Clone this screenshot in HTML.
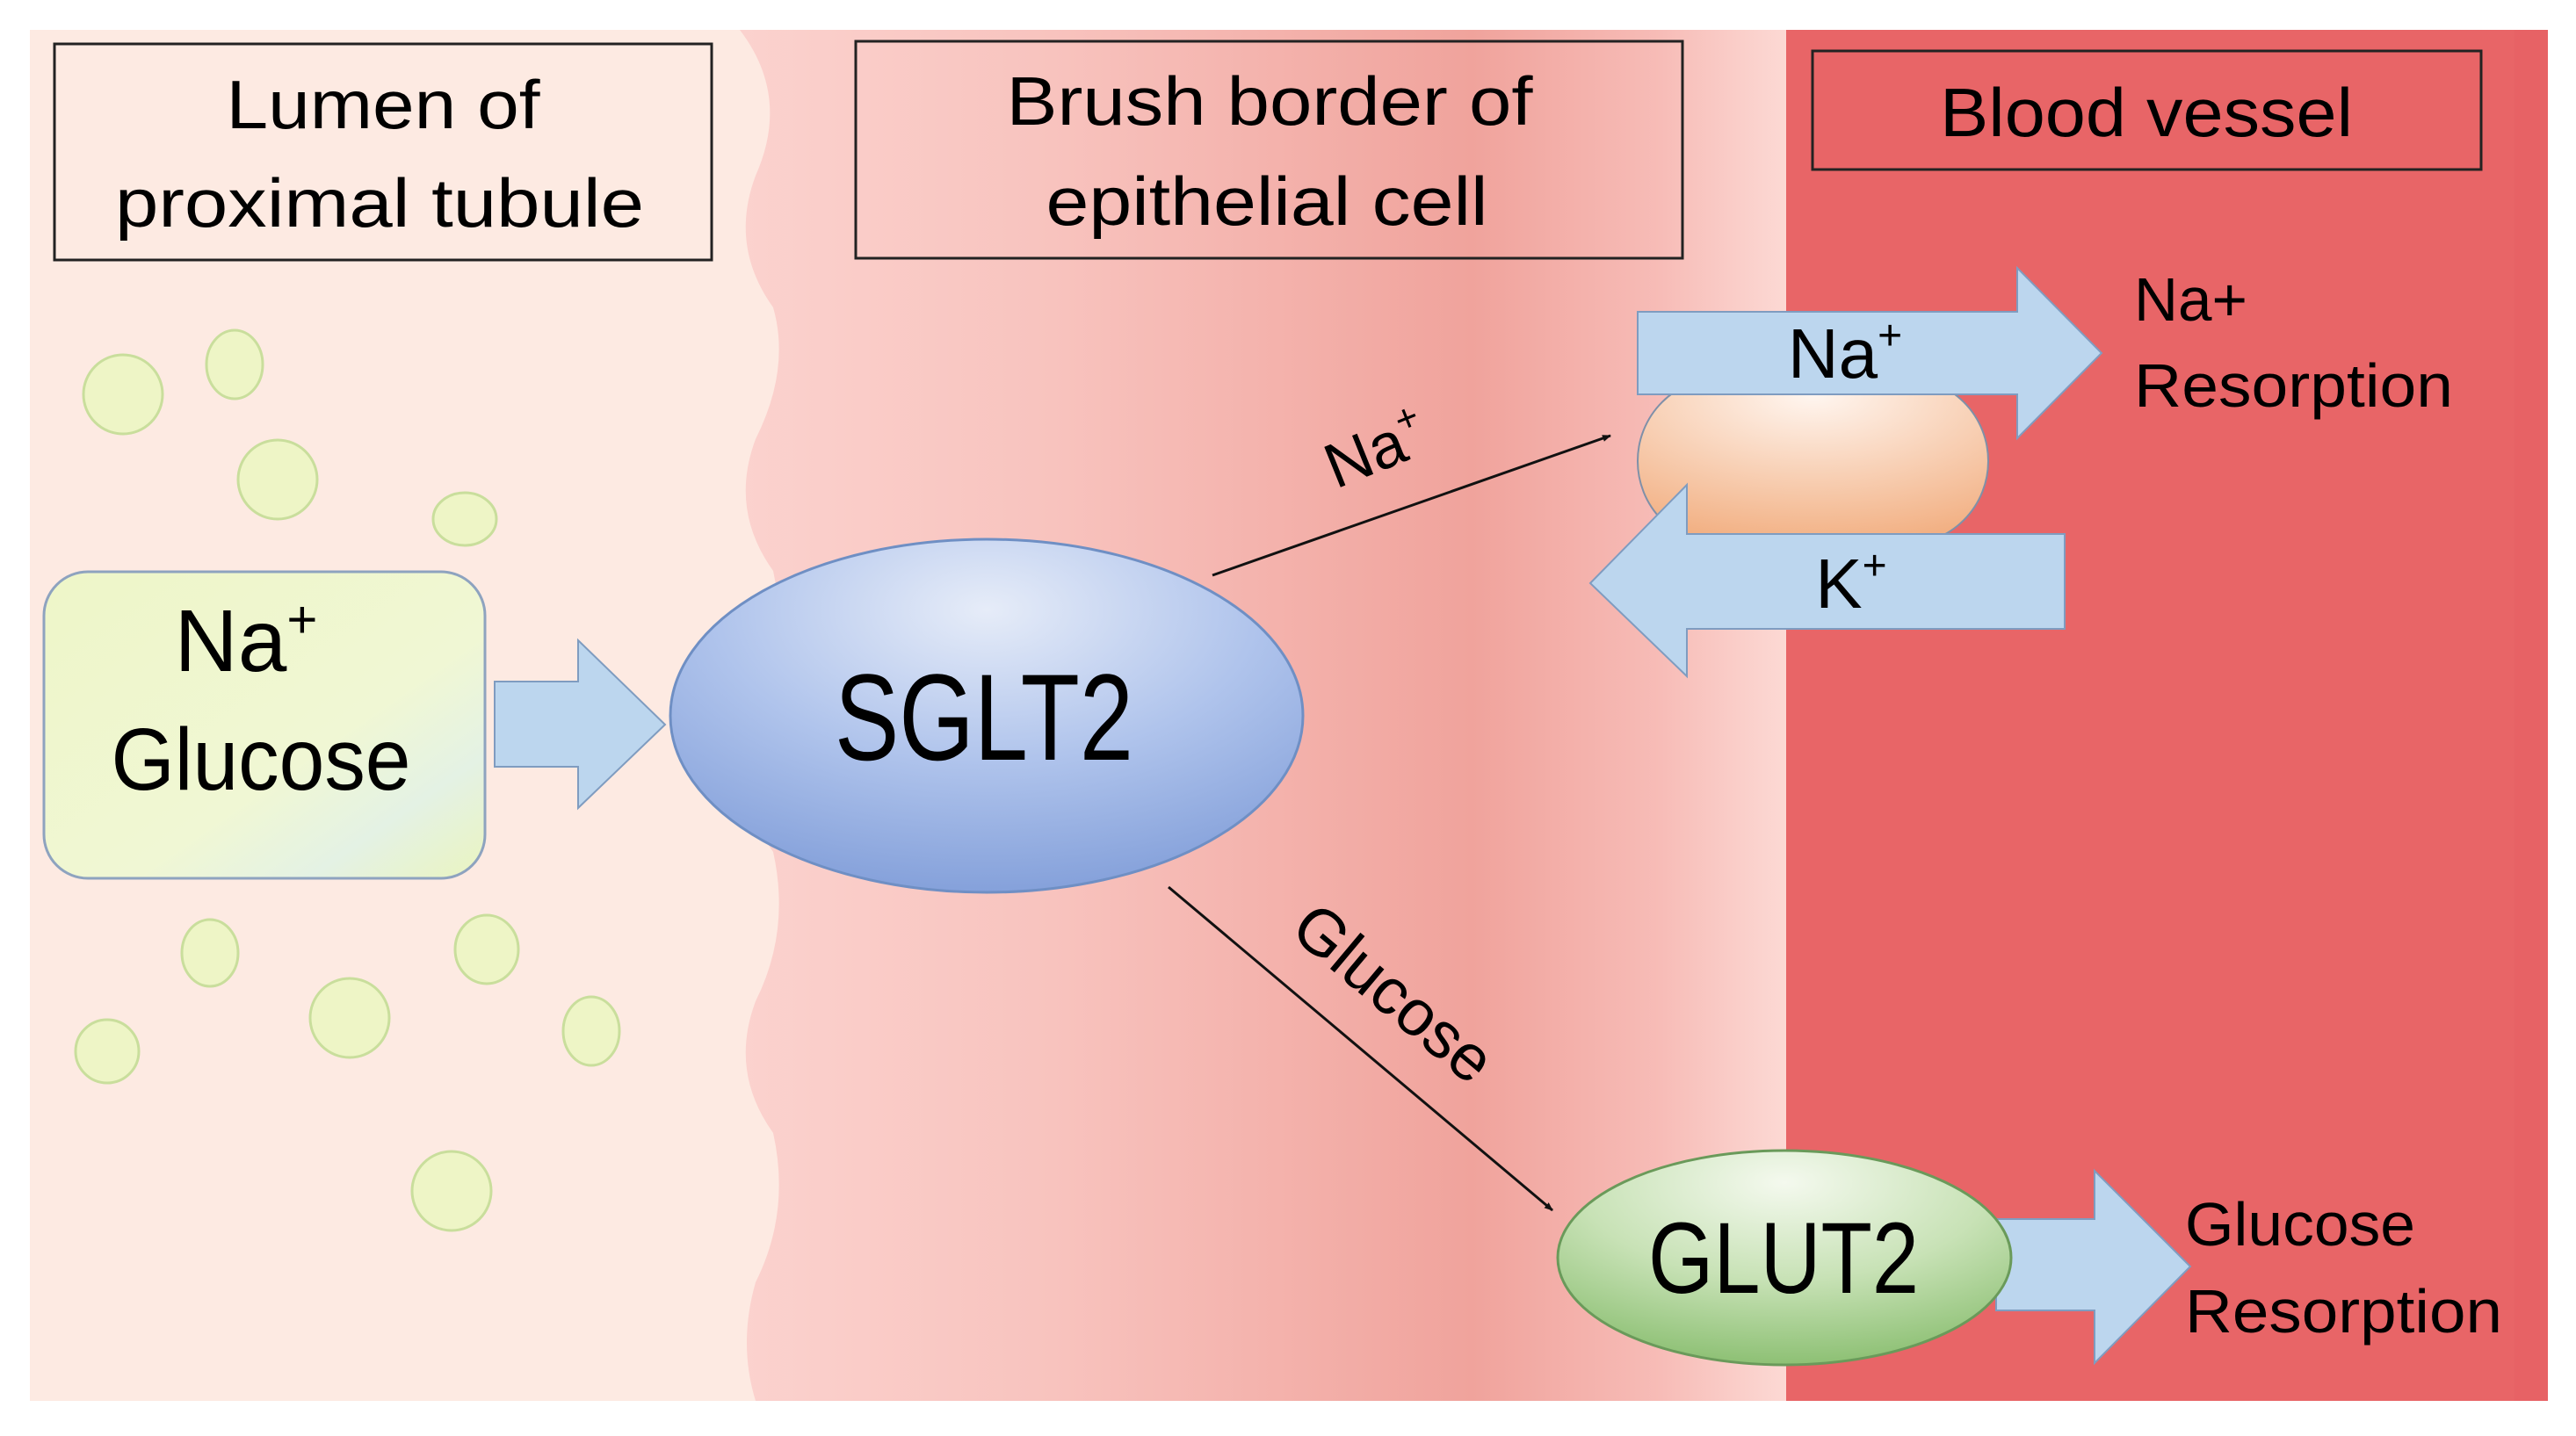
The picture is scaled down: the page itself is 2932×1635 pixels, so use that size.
<!DOCTYPE html>
<html><head><meta charset="utf-8"><style>
html,body{margin:0;padding:0;background:#fff;}
svg{display:block;font-family:"Liberation Sans",sans-serif;}
</style></head><body>
<svg width="2932" height="1635" viewBox="0 0 2932 1635" xmlns="http://www.w3.org/2000/svg">
<defs>
<linearGradient id="brush" x1="0" x2="1" y1="0" y2="0">
<stop offset="0" stop-color="#fbd2ce"/>
<stop offset="0.3" stop-color="#f8c3be"/>
<stop offset="0.7" stop-color="#f0a39c"/>
<stop offset="0.88" stop-color="#f7bcb7"/>
<stop offset="1" stop-color="#fcd9d4"/>
</linearGradient>
<radialGradient id="sglt" cx="0.5" cy="0.2" r="0.85">
<stop offset="0" stop-color="#e6ecf8"/>
<stop offset="0.5" stop-color="#b0c4ec"/>
<stop offset="1" stop-color="#7f9cd8"/>
</radialGradient>
<radialGradient id="glut" cx="0.5" cy="0.15" r="0.9">
<stop offset="0" stop-color="#f4f9ee"/>
<stop offset="0.5" stop-color="#c8e2b6"/>
<stop offset="1" stop-color="#86bc6c"/>
</radialGradient>
<radialGradient id="pump" cx="0.5" cy="0.1" r="0.9">
<stop offset="0" stop-color="#fff6f0"/>
<stop offset="1" stop-color="#f2b083"/>
</radialGradient>
<linearGradient id="box" x1="0" x2="1" y1="0" y2="1">
<stop offset="0" stop-color="#eef6c8"/>
<stop offset="0.6" stop-color="#f0f7d4"/>
<stop offset="0.8" stop-color="#e4f2e4"/>
<stop offset="1" stop-color="#eaf4c0"/>
</linearGradient>
<marker id="ah" markerWidth="10" markerHeight="8" refX="9" refY="4" orient="auto" markerUnits="userSpaceOnUse">
<path d="M0,0 L10,4 L0,8 z" fill="#111"/>
</marker>
</defs>
<rect x="34" y="34" width="2866" height="1561" fill="#fdeae2"/>
<rect x="842" y="34" width="1191" height="1561" fill="url(#brush)"/>
<path d="M34,34 L842,34 Q900,110 860,200 Q830,280 880,350 Q900,420 860,500 Q830,580 880,650 Q900,740 860,820 Q830,900 880,970 Q900,1060 860,1140 Q830,1220 880,1290 Q900,1380 860,1460 Q840,1530 860,1595 L34,1595 Z" fill="#fdeae2"/>
<rect x="2033" y="34" width="867" height="1561" fill="#e86567"/>
<rect x="2862" y="34" width="38" height="1561" fill="#e6606263"/>
<!-- header boxes -->
<rect x="62" y="50" width="748" height="246" fill="none" stroke="#222" stroke-width="3"/>
<text x="436" y="146" font-size="78" text-anchor="middle" textLength="357" lengthAdjust="spacingAndGlyphs">Lumen of</text>
<text x="432" y="258" font-size="78" text-anchor="middle" textLength="602" lengthAdjust="spacingAndGlyphs">proximal tubule</text>
<rect x="974" y="47" width="941" height="247" fill="none" stroke="#222" stroke-width="3"/>
<text x="1445" y="142" font-size="78" text-anchor="middle" textLength="599" lengthAdjust="spacingAndGlyphs">Brush border of</text>
<text x="1442" y="256" font-size="78" text-anchor="middle" textLength="503" lengthAdjust="spacingAndGlyphs">epithelial cell</text>
<rect x="2063" y="58" width="761" height="135" fill="none" stroke="#222" stroke-width="3"/>
<text x="2443" y="155" font-size="78" text-anchor="middle" textLength="470" lengthAdjust="spacingAndGlyphs">Blood vessel</text>
<!-- circles -->
<g fill="#eef5c6" stroke="#c9de9c" stroke-width="3">
<circle cx="140" cy="449" r="45"/>
<ellipse cx="267" cy="415" rx="32" ry="39"/>
<circle cx="316" cy="546" r="45"/>
<ellipse cx="529" cy="591" rx="36" ry="30"/>
<ellipse cx="239" cy="1085" rx="32" ry="38"/>
<ellipse cx="554" cy="1081" rx="36" ry="39"/>
<circle cx="398" cy="1159" r="45"/>
<circle cx="122" cy="1197" r="36"/>
<ellipse cx="673" cy="1174" rx="32" ry="39"/>
<circle cx="514" cy="1356" r="45"/>
</g>
<!-- Na Glucose box -->
<rect x="50" y="651" width="502" height="349" rx="50" fill="url(#box)" stroke="#8ea3bf" stroke-width="3"/>
<text x="280" y="764" font-size="100" text-anchor="middle">Na<tspan font-size="60" dy="-38">+</tspan></text>
<text x="297" y="899" font-size="100" text-anchor="middle" textLength="341" lengthAdjust="spacingAndGlyphs">Glucose</text>
<!-- arrow to SGLT2 -->
<path d="M563,776 L658,776 L658,729 L757,825 L658,920 L658,873 L563,873 Z" fill="#bcd6ee" stroke="#7f9cc0" stroke-width="2"/>
<!-- SGLT2 -->
<ellipse cx="1123" cy="815" rx="360" ry="201" fill="url(#sglt)" stroke="#6f8fc4" stroke-width="3"/>
<text x="1120" y="865" font-size="140" text-anchor="middle" textLength="340" lengthAdjust="spacingAndGlyphs">SGLT2</text>
<!-- connectors -->
<line x1="1380" y1="655" x2="1833" y2="496" stroke="#111" stroke-width="3" marker-end="url(#ah)"/>
<text transform="translate(1575,535) rotate(-22)" font-size="72" text-anchor="middle">Na<tspan font-size="44" dy="-30">+</tspan></text>
<line x1="1330" y1="1010" x2="1767" y2="1378" stroke="#111" stroke-width="3" marker-end="url(#ah)"/>
<text transform="translate(1570,1150) rotate(40)" font-size="74" text-anchor="middle">Glucose</text>
<!-- pump -->
<rect x="1864" y="430" width="399" height="190" rx="95" fill="url(#pump)" stroke="#7f90a8" stroke-width="2"/>
<path d="M1864,355 L2296,355 L2296,305 L2392,402 L2296,499 L2296,449 L1864,449 Z" fill="#bcd6ee" stroke="#7f9cc0" stroke-width="2"/>
<text x="2100" y="430" font-size="80" text-anchor="middle">Na<tspan font-size="48" dy="-32">+</tspan></text>
<path d="M2350,608 L1920,608 L1920,552 L1810,664 L1920,770 L1920,716 L2350,716 Z" fill="#bcd6ee" stroke="#7f9cc0" stroke-width="2"/>
<text x="2107" y="692" font-size="80" text-anchor="middle">K<tspan font-size="48" dy="-32">+</tspan></text>
<text x="2429" y="365" font-size="70" textLength="129" lengthAdjust="spacingAndGlyphs">Na+</text>
<text x="2429" y="463" font-size="70" textLength="363" lengthAdjust="spacingAndGlyphs">Resorption</text>
<!-- GLUT2 -->
<path d="M2272,1388 L2384,1388 L2384,1333 L2493,1442 L2384,1552 L2384,1492 L2272,1492 Z" fill="#bcd6ee" stroke="#7f9cc0" stroke-width="2"/>
<ellipse cx="2031" cy="1432" rx="258" ry="122" fill="url(#glut)" stroke="#6a9a5a" stroke-width="3"/>
<text x="2030" y="1472" font-size="115" text-anchor="middle" textLength="308" lengthAdjust="spacingAndGlyphs">GLUT2</text>
<text x="2487" y="1418" font-size="70" textLength="262" lengthAdjust="spacingAndGlyphs">Glucose</text>
<text x="2487" y="1517" font-size="70" textLength="361" lengthAdjust="spacingAndGlyphs">Resorption</text>
</svg>
</body></html>
